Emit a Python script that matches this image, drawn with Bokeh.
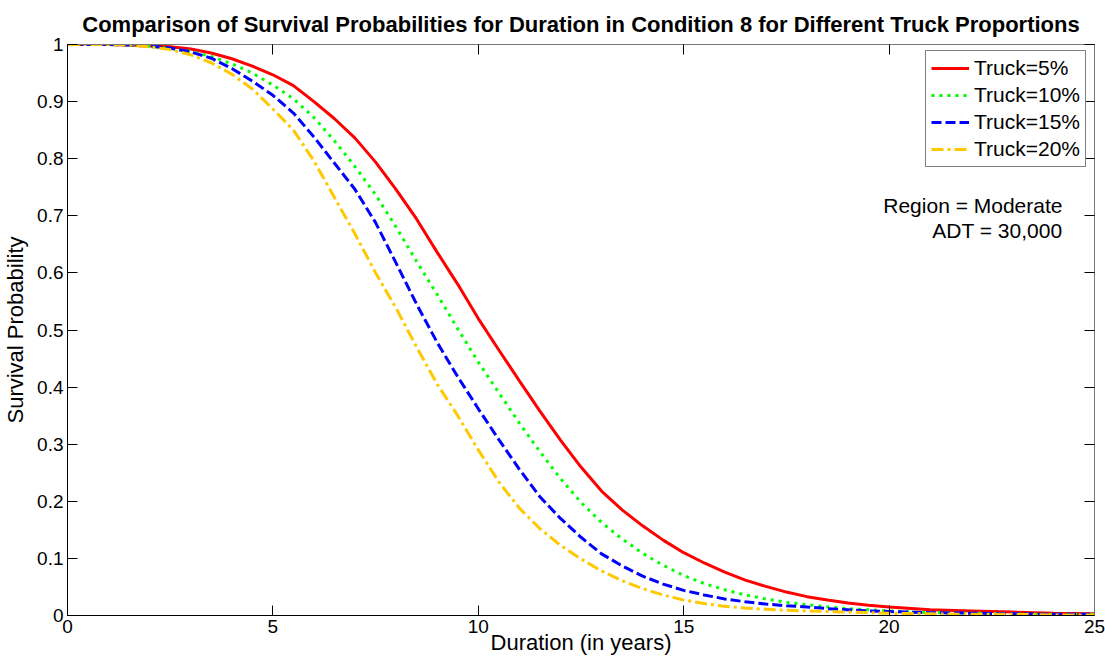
from bokeh.plotting import figure
from bokeh.models import LinearAxis, Legend, LegendItem, Label, FixedTicker, Range1d
from bokeh.embed import file_html
from bokeh.resources import INLINE

# Duration grid (years)
years = [0, 0.5, 1, 1.5, 2, 2.5, 3, 3.5, 4, 4.5, 5, 5.5, 6, 6.5, 7, 7.5, 8, 8.5, 9, 9.5,
         10, 10.5, 11, 11.5, 12, 12.5, 13, 13.5, 14, 14.5, 15, 15.5, 16, 16.5, 17, 17.5,
         18, 18.5, 19, 19.5, 20, 21, 22, 23, 24, 25]

# Survival probability for each truck proportion
truck_5 = [1.000, 1.000, 1.000, 0.999, 0.998, 0.996, 0.992, 0.985, 0.975, 0.962,
           0.947, 0.928, 0.900, 0.870, 0.836, 0.794, 0.746, 0.694, 0.636, 0.580,
           0.520, 0.465, 0.411, 0.358, 0.307, 0.260, 0.218, 0.185, 0.157, 0.132,
           0.110, 0.092, 0.076, 0.062, 0.051, 0.041, 0.033, 0.027, 0.022, 0.018,
           0.015, 0.010, 0.008, 0.006, 0.004, 0.003]
truck_10 = [1.000, 1.000, 1.000, 0.999, 0.997, 0.993, 0.988, 0.979, 0.966, 0.950,
            0.929, 0.905, 0.872, 0.831, 0.786, 0.737, 0.680, 0.620, 0.562, 0.502,
            0.444, 0.390, 0.337, 0.287, 0.240, 0.198, 0.163, 0.134, 0.109, 0.088,
            0.070, 0.056, 0.045, 0.036, 0.029, 0.023, 0.019, 0.015, 0.012, 0.010,
            0.008, 0.005, 0.004, 0.003, 0.002, 0.002]
truck_15 = [1.000, 1.000, 1.000, 0.999, 0.997, 0.994, 0.987, 0.976, 0.958, 0.936,
            0.911, 0.880, 0.838, 0.792, 0.746, 0.688, 0.617, 0.545, 0.478, 0.418,
            0.362, 0.308, 0.256, 0.208, 0.170, 0.137, 0.108, 0.087, 0.069, 0.055,
            0.044, 0.036, 0.029, 0.024, 0.020, 0.017, 0.015, 0.012, 0.010, 0.008,
            0.007, 0.005, 0.004, 0.003, 0.002, 0.002]
truck_20 = [1.000, 1.000, 1.000, 0.999, 0.996, 0.991, 0.982, 0.968, 0.948, 0.922,
            0.887, 0.850, 0.796, 0.732, 0.668, 0.600, 0.538, 0.470, 0.405, 0.350,
            0.290, 0.234, 0.188, 0.152, 0.123, 0.099, 0.078, 0.061, 0.047, 0.036,
            0.027, 0.021, 0.016, 0.013, 0.011, 0.009, 0.008, 0.007, 0.006, 0.005,
            0.004, 0.003, 0.002, 0.002, 0.001, 0.001]

labels = ["Truck=5%", "Truck=10%", "Truck=15%", "Truck=20%"]
x_ticks = [0, 5, 10, 15, 20, 25]
y_ticks = [0, 0.1, 0.2, 0.3, 0.4, 0.5, 0.6, 0.7, 0.8, 0.9, 1]

FONT = "Liberation Sans"

p = figure(width=1105, height=660, output_backend="svg", toolbar_location=None,
           x_range=Range1d(0, 25), y_range=Range1d(0, 1),
           min_border_left=66, min_border_right=11, min_border_top=44, min_border_bottom=45)

p.title.text = "Comparison of Survival Probabilities for Duration in Condition 8 for Different Truck Proportions"
p.title.align = "center"
p.title.text_font = FONT
p.title.text_font_size = "22px"
p.title.text_font_style = "bold"
p.title.text_color = "black"
p.title.offset = 0
p.title.standoff = 15

p.grid.visible = False
p.outline_line_color = "#555555"
p.background_fill_color = "white"
p.border_fill_color = "white"

def style_axis(ax, show_labels):
    ax.major_tick_in = 10
    ax.major_tick_out = 0
    ax.minor_tick_in = 0
    ax.minor_tick_out = 0
    ax.axis_line_color = "black"
    ax.major_tick_line_color = "black"
    ax.major_label_text_font = FONT
    ax.major_label_text_font_size = "19px" if show_labels else "0px"
    ax.major_label_text_color = "black"
    ax.major_label_standoff = 4
    ax.axis_label_text_font = FONT
    ax.axis_label_text_font_size = "22px"
    ax.axis_label_text_font_style = "normal"
    ax.axis_label_text_color = "black"

p.xaxis.ticker = FixedTicker(ticks=x_ticks)
p.yaxis.ticker = FixedTicker(ticks=y_ticks)
p.xaxis.axis_label = "Duration (in years)"
p.yaxis.axis_label = "Survival Probability"
style_axis(p.xaxis[0], True)
style_axis(p.yaxis[0], True)
p.xaxis.major_label_standoff = 4
p.xaxis.axis_label_standoff = -6
p.yaxis.axis_label_standoff = 6
p.xaxis.major_label_overrides = {0: "0", 5: "5", 10: "10", 15: "15", 20: "20", 25: "25"}
p.yaxis.major_label_overrides = {0: "0", 1: "1"}

top = LinearAxis(ticker=FixedTicker(ticks=x_ticks))
right = LinearAxis(ticker=FixedTicker(ticks=y_ticks))
for ax in (top, right):
    style_axis(ax, False)
    ax.axis_line_color = "#777777"
    ax.major_label_standoff = 0
p.add_layout(top, "above")
p.add_layout(right, "right")

r5 = p.line(years, truck_5, line_color="#FF0000", line_width=3)
r10 = p.line(years, truck_10, line_color="#00FF00", line_width=3, line_dash="3 5")
r15 = p.line(years, truck_15, line_color="#0000FF", line_width=3, line_dash="10 4")
r20 = p.line(years, truck_20, line_color="#FFC800", line_width=3, line_dash="12 4 3 4")

legend = Legend(items=[LegendItem(label=l, renderers=[r]) for l, r in zip(labels, [r5, r10, r15, r20])],
                location=(858, 448))
legend.label_text_font = FONT
legend.label_text_font_size = "21px"
legend.label_text_color = "black"
legend.glyph_width = 38
legend.glyph_height = 22
legend.label_height = 22
legend.spacing = 3
legend.padding = 5
legend.margin = 0
legend.label_standoff = 5
legend.border_line_color = "black"
legend.border_line_width = 1
legend.background_fill_alpha = 1
p.add_layout(legend, "center")

# Region / traffic note
for txt, yv in (("Region = Moderate", 0.718), ("ADT = 30,000", 0.674)):
    p.add_layout(Label(x=24.22, y=yv, text=txt, text_align="right", text_baseline="middle",
                       text_font=FONT, text_font_size="21px", text_color="black"))

open("out.html", "w").write(file_html(p, INLINE))
